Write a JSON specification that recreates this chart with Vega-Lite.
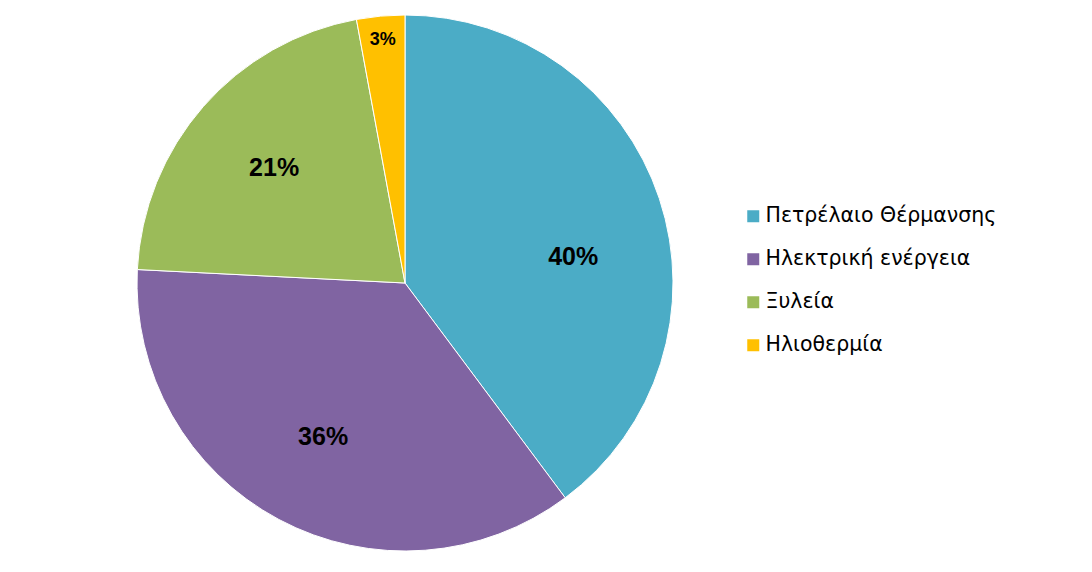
{
  "$schema": "https://vega.github.io/schema/vega-lite/v6.json",
  "width": 810,
  "height": 566,
  "padding": 0,
  "autosize": {"type": "pad"},
  "background": "white",
  "data": {
    "values": [
      {"source": "Πετρέλαιο Θέρμανσης", "value": 39.8, "label": "40%", "order": 1},
      {"source": "Ηλεκτρική ενέργεια", "value": 36.0, "label": "36%", "order": 2},
      {"source": "Ξυλεία", "value": 21.3, "label": "21%", "order": 3},
      {"source": "Ηλιοθερμία", "value": 2.9, "label": "3%", "order": 4}
    ]
  },
  "encoding": {
    "theta": {"field": "value", "type": "quantitative", "stack": true},
    "order": {"field": "order", "type": "quantitative"},
    "color": {
      "field": "source",
      "type": "nominal",
      "scale": {
        "domain": ["Πετρέλαιο Θέρμανσης", "Ηλεκτρική ενέργεια", "Ξυλεία", "Ηλιοθερμία"],
        "range": ["#4BACC6", "#8064A2", "#9BBB59", "#FFC000"]
      },
      "legend": {
        "title": null,
        "orient": "none",
        "legendX": 743,
        "legendY": 206,
        "symbolType": "square",
        "symbolSize": 144,
        "symbolStrokeWidth": 0,
        "labelFontSize": 20.5,
        "labelFont": "DejaVu Sans",
        "labelColor": "#000000",
        "labelOffset": 2,
        "rowPadding": 22,
        "labelLimit": 400
      }
    }
  },
  "layer": [
    {
      "mark": {"type": "arc", "outerRadius": 268, "stroke": "white", "strokeWidth": 1}
    },
    {
      "mark": {"type": "text", "radius": 174, "font": "Liberation Sans", "fontWeight": "bold", "fontSize": 25, "dx": 3, "dy": 29},
      "encoding": {
        "text": {"condition": {"test": "datum.order == 1", "field": "label"}, "value": ""},
        "color": {"value": "black"}
      }
    },
    {
      "mark": {"type": "text", "radius": 174, "font": "Liberation Sans", "fontWeight": "bold", "fontSize": 25},
      "encoding": {
        "text": {"condition": {"test": "datum.order == 2 || datum.order == 3", "field": "label"}, "value": ""},
        "color": {"value": "black"}
      }
    },
    {
      "mark": {"type": "text", "radius": 244, "font": "Liberation Sans", "fontWeight": "bold", "fontSize": 18},
      "encoding": {
        "text": {"condition": {"test": "datum.order == 4", "field": "label"}, "value": ""},
        "color": {"value": "black"}
      }
    }
  ],
  "config": {"view": {"stroke": null}}
}
